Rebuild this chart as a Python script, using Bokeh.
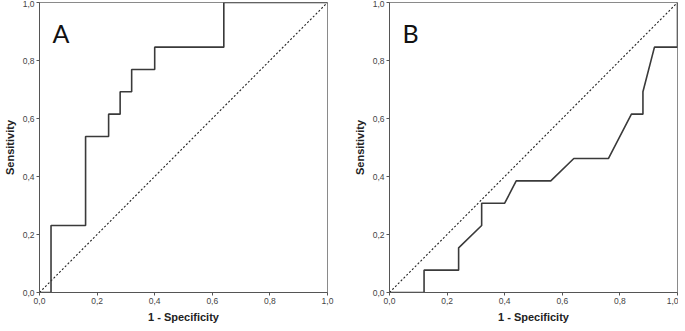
from bokeh.plotting import figure
from bokeh.layouts import row
from bokeh.models import Range1d, FixedTicker, Label
from bokeh.embed import file_html
from bokeh.resources import INLINE

# ROC curve A (1 - specificity, sensitivity)
a_fpr = [0, 0.04, 0.04, 0.16, 0.16, 0.24, 0.24, 0.28, 0.28, 0.32, 0.32, 0.40, 0.40, 0.64, 0.64, 1.0]
a_tpr = [0, 0, 0.231, 0.231, 0.538, 0.538, 0.615, 0.615, 0.692, 0.692, 0.769, 0.769, 0.846, 0.846, 1.0, 1.0]

# ROC curve B
b_fpr = [0, 0.12, 0.12, 0.24, 0.24, 0.32, 0.32, 0.40, 0.44, 0.56, 0.64, 0.76, 0.84, 0.88, 0.88, 0.92, 1.0, 1.0]
b_tpr = [0, 0, 0.077, 0.077, 0.154, 0.231, 0.308, 0.308, 0.385, 0.385, 0.462, 0.462, 0.615, 0.615, 0.692, 0.846, 0.846, 1.0]

# reference diagonal
diag = [0, 1]

ticks = [0, 0.2, 0.4, 0.6, 0.8, 1.0]
tick_labels = {0: "0,0", 0.2: "0,2", 0.4: "0,4", 0.6: "0,6", 0.8: "0,8", 1.0: "1,0"}

panels = [("A", a_fpr, a_tpr), ("B", b_fpr, b_tpr)]


def make_panel(letter, fx, fy, border_left, border_right):
    p = figure(frame_width=288, frame_height=290,
               min_border_left=border_left, min_border_right=border_right,
               min_border_top=2, min_border_bottom=30,
               x_range=Range1d(0, 1), y_range=Range1d(0, 1),
               output_backend="svg", toolbar_location=None,
               x_axis_label="1 - Specificity", y_axis_label="Sensitivity")
    p.grid.visible = False
    p.outline_line_color = "#8a8a8a"
    p.outline_line_width = 1
    p.background_fill_color = "white"
    p.border_fill_color = "white"
    for ax in (p.xaxis[0], p.yaxis[0]):
        ax.ticker = FixedTicker(ticks=ticks)
        ax.major_label_overrides = tick_labels
        ax.minor_tick_line_color = None
        ax.major_tick_in = 0
        ax.major_tick_out = 3
        ax.major_tick_line_color = "#555555"
        ax.axis_line_color = "#555555"
        ax.major_label_text_font = "Liberation Sans"
        ax.major_label_text_font_size = "8.5px"
        ax.major_label_text_color = "#444444"
        ax.major_label_standoff = 2
        ax.axis_label_text_font = "Liberation Sans"
        ax.axis_label_text_font_size = "11px"
        ax.axis_label_text_font_style = "bold"
        ax.axis_label_text_color = "#222222"
        ax.axis_label_standoff = 4
    p.line(diag, diag, line_color="#222222", line_width=1.1, line_dash="2 2")
    p.line(fx, fy, line_color="#3a3a3a", line_width=1.6)
    p.add_layout(Label(x=0.045, y=0.895, text=letter, text_font="Lato",
                       text_font_size="25px", text_color="#111111",
                       text_baseline="alphabetic"))
    return p


pa = make_panel(*panels[0], border_left=30, border_right=14)
pb = make_panel(*panels[1], border_left=48, border_right=1)

layout = row(pa, pb, spacing=0)
open("out.html", "w").write(file_html(layout, INLINE))
